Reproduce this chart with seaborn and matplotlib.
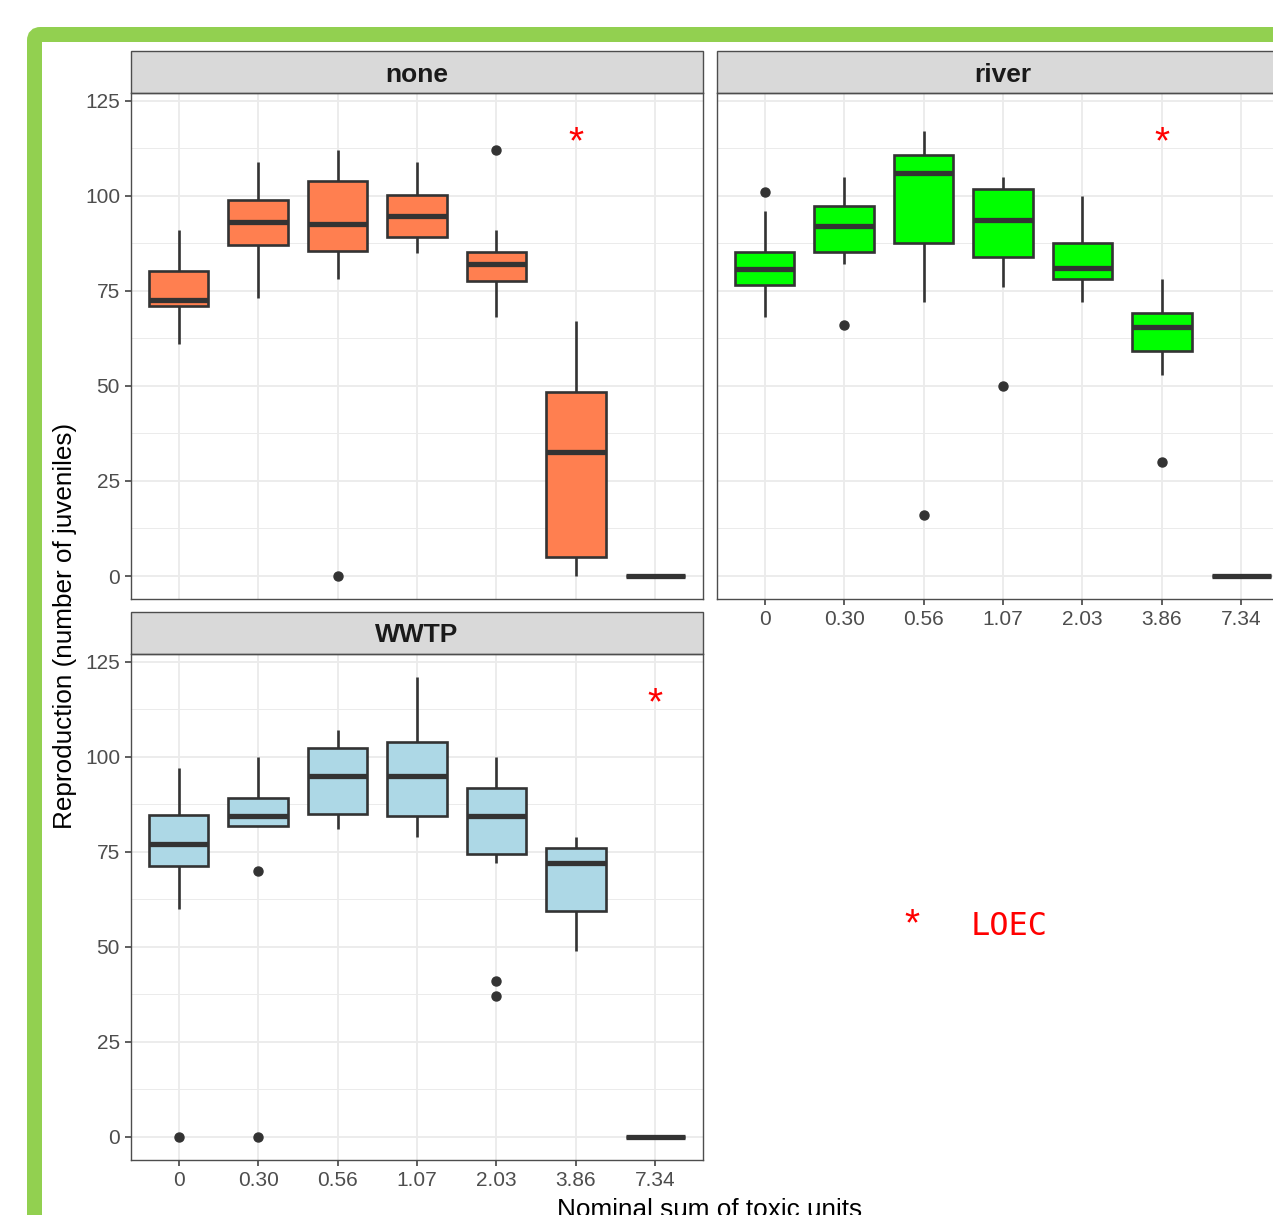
import pandas as pd
import matplotlib
matplotlib.use("Agg")
import matplotlib.pyplot as plt
from matplotlib.patches import FancyBboxPatch, Rectangle
from matplotlib.ticker import MultipleLocator
import seaborn as sns

doses = ["0", "0.30", "0.56", "1.07", "2.03", "3.86", "7.34"]
panels = ["none", "river", "WWTP"]
fills = ["#FF7F50", "#00FF00", "#ADD8E6"]
loec_dose = ["3.86", "3.86", "7.34"]

# juveniles per replicate, one list per dose
none_vals = [
    [61, 68, 71, 72, 72.5, 76, 80.3, 85, 91],
    [73, 82, 87, 90, 93, 96, 99, 104, 109],
    [0, 78, 85.5, 89, 92.5, 98, 104, 108, 112],
    [85, 87, 89.3, 92, 94.6, 97, 100.2, 104, 109],
    [68, 74, 77.7, 80, 82, 84, 85.3, 91, 112],
    [0, 2, 5, 20, 32.5, 40, 48.5, 58, 67],
    [0, 0, 0, 0, 0, 0, 0, 0, 0],
]
river_vals = [
    [68, 73, 76.5, 79, 80.7, 83, 85.3, 96, 101],
    [66, 82, 85.3, 89, 92, 95, 97.4, 101, 105],
    [16, 72, 87.6, 100, 106, 108, 110.7, 114, 117],
    [50, 76, 84, 89, 93.6, 98, 101.8, 104, 105],
    [72, 75, 78, 80, 81, 85, 87.5, 94, 100],
    [30, 53, 59.3, 63, 65.5, 67, 69.1, 74, 78],
    [0, 0, 0, 0, 0, 0, 0, 0, 0],
]
wwtp_vals = [
    [0, 60, 71.2, 74, 77, 80, 84.8, 90, 97],
    [0, 70, 81.9, 83, 84.5, 87, 89.3, 95, 100],
    [81, 83, 85, 90, 95, 99, 102.2, 105, 107],
    [79, 82, 84.5, 90, 95, 100, 104, 112, 121],
    [37, 41, 72, 74.4, 78, 82, 84.5, 87, 90, 91.8, 95, 98, 100],
    [49, 55, 59.5, 66, 72, 74, 75.9, 78, 79],
    [0, 0, 0, 0, 0, 0, 0, 0, 0],
]
star_y = 111.2

rows = []
for p, vals in zip(panels, [none_vals, river_vals, wwtp_vals]):
    for d, reps in zip(doses, vals):
        for v in reps:
            rows.append((p, d, v))
df = pd.DataFrame(rows, columns=["panel", "dose", "value"])

sns.set_theme(style="white")
plt.rcParams["font.family"] = ["Liberation Sans", "DejaVu Sans"]

W, H = 1273, 1215
fig = plt.figure(figsize=(W / 100, H / 100), dpi=100)

# green frame round the whole thing
frame = FancyBboxPatch((0.345, -1.0), 20, (H - 34.5) / 100 + 1.0,
                       boxstyle="round,pad=0,rounding_size=0.06",
                       transform=fig.dpi_scale_trans, facecolor="none",
                       edgecolor="#92D050", linewidth=10.8)
fig.add_artist(frame)


def px_axes(x0, y0, x1, y1):
    return fig.add_axes([x0 / W, 1 - y1 / H, (x1 - x0) / W, (y1 - y0) / H])


boxes = [(131, 93, 703, 599), (717, 93, 1289, 599), (131, 654, 703, 1160)]

for i, p in enumerate(panels):
    ax = px_axes(*boxes[i])
    sns.boxplot(data=df[df.panel == p], x="dose", y="value", order=doses, ax=ax,
                color=fills[i], saturation=1, width=0.75, linecolor="#333333",
                linewidth=1.9, fliersize=6.5, showcaps=False,
                flierprops=dict(marker="o", markerfacecolor="#333333",
                                markeredgecolor="#333333"),
                medianprops=dict(linewidth=3.8, color="#333333"))
    ax.set_xlim(-0.6, 6.6)
    ax.set_ylim(-6.05, 127.05)
    ax.yaxis.set_major_locator(MultipleLocator(25))
    ax.yaxis.set_minor_locator(MultipleLocator(12.5))
    ax.grid(which="major", color="#EBEBEB", lw=1.3)
    ax.grid(which="minor", axis="y", color="#EBEBEB", lw=0.7)
    ax.set_axisbelow(True)
    ax.set_xlabel("")
    ax.set_ylabel("")
    for s in ax.spines.values():
        s.set_color("#4D4D4D")
        s.set_linewidth(1.0)
    ax.tick_params(axis="both", which="major", length=4.3, width=1.1,
                   color="#333333", labelsize=15, labelcolor="#4D4D4D", pad=3.6,
                   left=True, bottom=True)
    ax.tick_params(which="minor", length=0)
    if p == "none":
        ax.tick_params(axis="x", bottom=False, labelbottom=False)
    if p == "river":
        ax.tick_params(axis="y", left=False, labelleft=False)

    # facet strip
    sh = 42 / (boxes[i][3] - boxes[i][1])
    ax.add_patch(Rectangle((0, 1), 1, sh, transform=ax.transAxes, clip_on=False,
                           facecolor="#D9D9D9", edgecolor="#4D4D4D", lw=1.0))
    ax.text(0.5, 1 + (sh * 0.5 - 2.5 / (boxes[i][3] - boxes[i][1])), p,
            transform=ax.transAxes, ha="center", va="center", fontsize=19,
            fontweight="bold", color="#1A1A1A")

    ax.text(doses.index(loec_dose[i]), star_y, "*", color="red", fontsize=28,
            ha="center", va="baseline")

fig.text(65 / W, 1 - 626 / H, "Reproduction (number of juveniles)", rotation=90,
         ha="center", va="center", fontsize=18.8, color="black")
fig.text(710 / W, 1 - 1217 / H, "Nominal sum of toxic units", ha="center",
         va="baseline", fontsize=18.8, color="black")

# LOEC key
fig.text(912 / W, 1 - 935.5 / H, "*", color="red", fontsize=28, ha="center",
         va="baseline")
fig.text(971 / W, 1 - 935 / H, "LOEC", color="red", fontsize=23, ha="left",
         va="baseline", family=["DejaVu Sans Mono"])

fig.savefig("out.png", dpi=100)
